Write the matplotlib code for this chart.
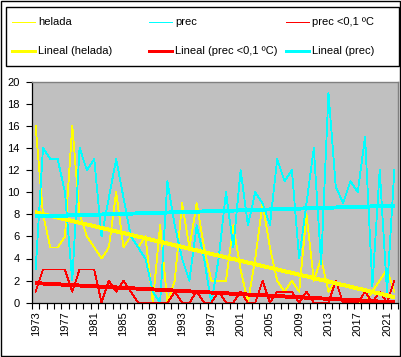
import numpy as np
import matplotlib
matplotlib.use("Agg")
import matplotlib.pyplot as plt
from matplotlib.lines import Line2D
from matplotlib.patches import Rectangle

plt.rcParams['font.family'] = ['Liberation Sans', 'DejaVu Sans']

years = list(range(1973, 2023))
helada = [16, 8, 5, 5, 6, 16, 8, 6, 5, 4,
          5, 10, 5, 6, 5, 6, 0, 7, 0, 2,
          9, 5, 9, 5, 2, 2, 2, 7, 3, 0,
          4, 9, 5, 2, 1, 2, 1, 8, 2, 4,
          1, 2, 0, 0, 0, 0, 1, 2, 3, 1]
prec = [3, 14, 13, 13, 10, 2, 14, 12, 13, 6,
        9.5, 13, 9.5, 6, 5, 4, 1, 0, 11, 7,
        4, 2, 7, 4, 0, 4, 10, 5, 12, 7,
        10, 9, 7, 13, 11, 12, 4, 9, 14, 3.5,
        19, 10.5, 9, 11, 10, 15, 1.5, 12, 1, 12]
prec_frio = [1, 3, 3, 3, 3, 1, 3, 3, 3, 0,
             2, 1, 2, 1, 0, 0, 0, 0, 0, 1,
             0, 0, 1, 0, 0, 1, 0, 0, 1, 0,
             0, 2, 0, 1, 1, 1, 0, 1, 0, 0,
             0, 2, 0, 0, 0, 1, 0, 1, 0, 2]
labels = ["helada", "prec", "prec <0,1 ºC",
          "Lineal (helada)", "Lineal (prec <0,1 ºC)", "Lineal (prec)"]

W, H = 402, 357
fig = plt.figure(figsize=(W / 100, H / 100), dpi=100)
fig.patch.set_facecolor('white')

def fx(x):
    return x / W

def fy(y):
    return 1 - y / H

ax = fig.add_axes([fx(32), fy(302.7), 366 / W, 221 / H])
ax.set_facecolor('#C0C0C0')

idx = np.arange(len(years))
thin = 0.6
thick = 2.1
ax.plot(idx, helada, color='#FFFF00', lw=thin, zorder=2, antialiased=False)
ax.plot(idx, prec, color='#00FFFF', lw=thin, zorder=3, antialiased=False)
ax.plot(idx, prec_frio, color='#FF0000', lw=thin, zorder=4, antialiased=False)

for vals, col in [(helada, '#FFFF00'), (prec_frio, '#FF0000'), (prec, '#00FFFF')]:
    m, b = np.polyfit(idx, vals, 1)
    ax.plot(idx, m * idx + b, color=col, lw=thick, zorder=5,
            solid_capstyle='butt', antialiased=False)

ax.set_xlim(-0.5, len(years) - 0.5)
ax.set_ylim(0, 20)
ax.set_yticks(np.arange(0, 21, 2))
ax.set_xticks(idx[::4])
ax.set_xticklabels([str(y) for y in years[::4]], rotation=90)
ax.set_xticks(np.arange(-0.5, len(years), 1), minor=True)
ax.tick_params(axis='x', which='major', length=0, pad=6, labelsize=8)
ax.tick_params(axis='x', which='minor', length=4, width=0.8, direction='out')
ax.tick_params(axis='y', length=4, width=0.8, direction='out', pad=5, labelsize=8)
for s in ['top', 'right']:
    ax.spines[s].set_color('#808080')
    ax.spines[s].set_linewidth(1)
for s in ['left', 'bottom']:
    ax.spines[s].set_color('black')
    ax.spines[s].set_linewidth(0.9)
ax.spines['bottom'].set_zorder(6)

# outer chart border
fig.add_artist(Rectangle((fx(1), fy(356)), (400 - 1) / W, (356 - 1) / H,
                         transform=fig.transFigure, fill=False, ec='black', lw=1))
# legend box
fig.add_artist(Rectangle((fx(6), fy(66)), (399 - 6) / W, (66 - 6.5) / H,
                         transform=fig.transFigure, fill=False, ec='black', lw=1))

entries = [
    (labels[0], '#FFFF00', thin, 12, 21.7),
    (labels[1], '#00FFFF', thin, 149, 21.7),
    (labels[2], '#FF0000', thin, 286, 21.7),
    (labels[3], '#FFFF00', thick, 12, 51),
    (labels[4], '#FF0000', thick, 149, 51),
    (labels[5], '#00FFFF', thick, 286, 51),
]
for text, col, lw, x0, yy in entries:
    fig.add_artist(Line2D([fx(x0), fx(x0 + 23)], [fy(yy), fy(yy)],
                          transform=fig.transFigure, color=col, lw=lw,
                          antialiased=False))
    fig.text(fx(x0 + 26), fy(yy), text, fontsize=8, va='center', ha='left')

fig.savefig('out.png', dpi=100, facecolor='white')
